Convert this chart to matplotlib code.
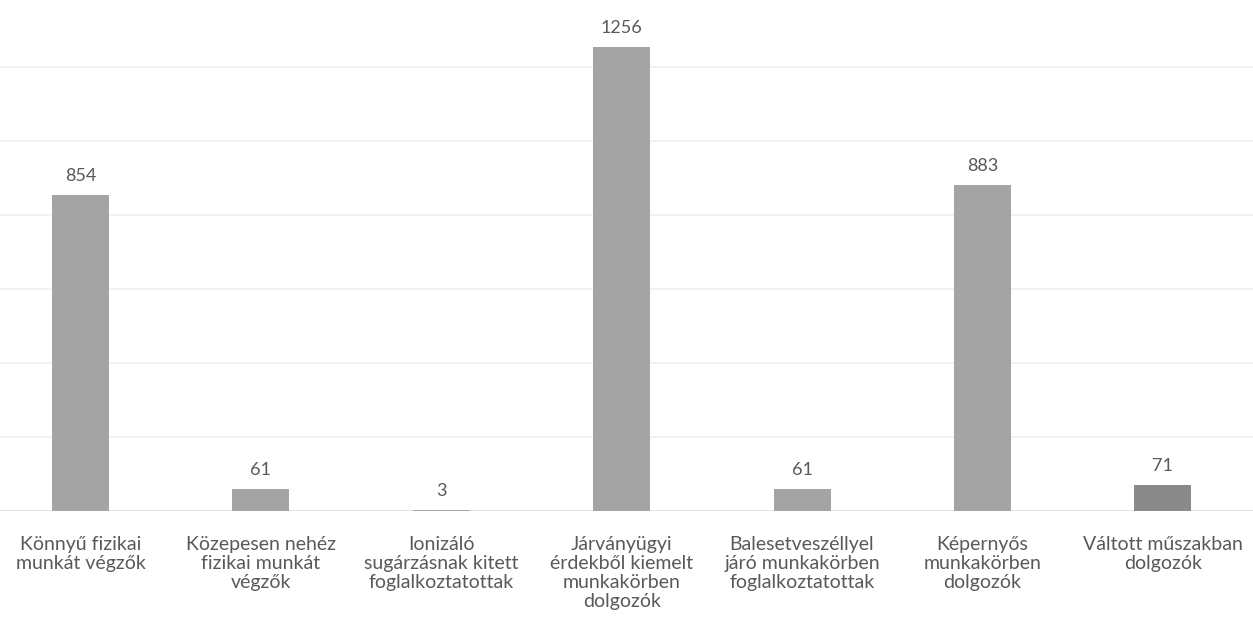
import numpy as np
import matplotlib
matplotlib.use("Agg")
import matplotlib.pyplot as plt

# Kategóriák és értékek
categories = [
    "Könnyű fizikai\nmunkát végzők",
    "Közepesen nehéz\nfizikai munkát\nvégzők",
    "Ionizáló\nsugárzásnak kitett\nfoglalkoztatottak",
    "Járványügyi\nérdekből kiemelt\nmunkakörben\ndolgozók",
    "Balesetveszéllyel\njáró munkakörben\nfoglalkoztatottak",
    "Képernyős\nmunkakörben\ndolgozók",
    "Váltott műszakban\ndolgozók",
]
values = [854, 61, 3, 1256, 61, 883, 71]
grid_values = [0, 200, 400, 600, 800, 1000, 1200]

bar_colors = ["#a4a4a4"] * 6 + ["#8a8a8a"]
text_color = "#595959"

plt.rcParams['font.family'] = ['Lato', 'DejaVu Sans']

fig = plt.figure(figsize=(12.53, 6.36), dpi=100)
ax = fig.add_axes([0, 0.1958, 1, 0.8042])

x = np.arange(len(categories))
bars = ax.bar(x, values, width=0.316, color=bar_colors, zorder=3)

# halvány rácsvonalak
for g in grid_values:
    ax.axhline(g, color="#f0f0f0" if g else "#e0e0e0", lw=1.2, zorder=1)

ax.bar_label(bars, labels=[str(v) for v in values], padding=8,
             fontsize=13, color=text_color)

ax.set_xlim(-0.446, 6.5)
ax.set_ylim(0, 1382)
ax.set_xticks(x)
ax.set_xticklabels(categories, fontsize=14, color=text_color, linespacing=1.14)
ax.tick_params(axis="x", length=0, pad=18)
ax.set_yticks([])
for s in ax.spines.values():
    s.set_visible(False)

fig.savefig("out.png", dpi=100)
